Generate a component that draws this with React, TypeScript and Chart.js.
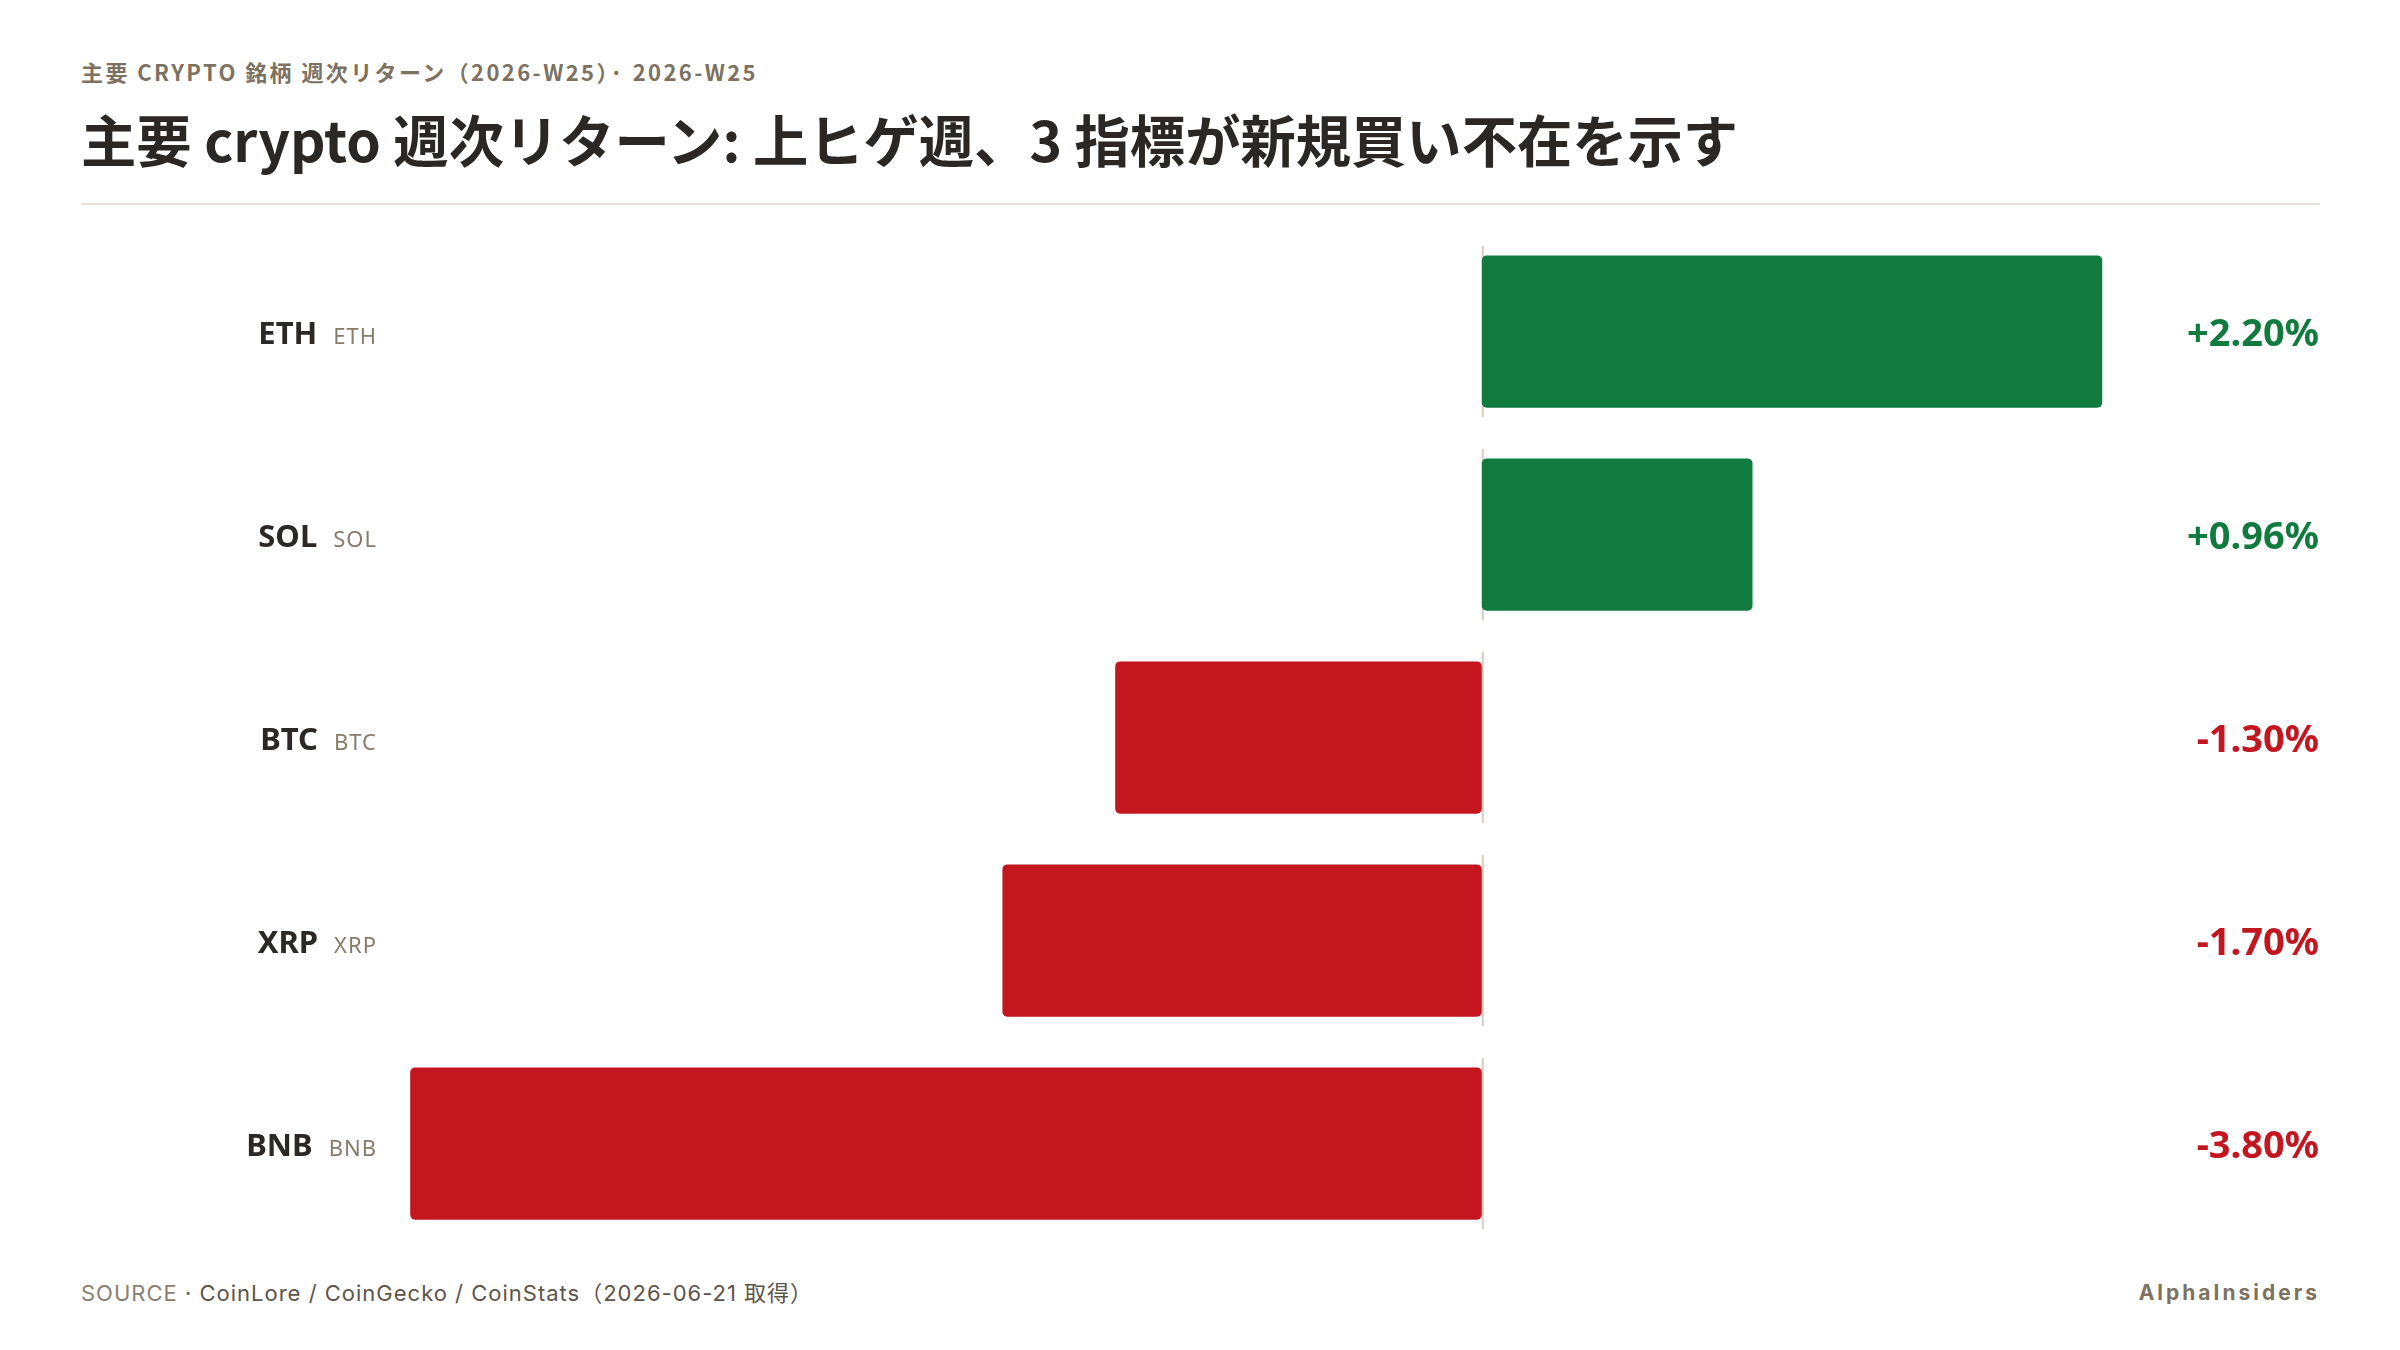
import React, { useEffect, useRef } from "react";
import { Chart, registerables } from "chart.js";

Chart.register(...registerables);

// ---- data ----
const tickers = ["ETH", "SOL", "BTC", "XRP", "BNB"];
const subLabels = ["ETH", "SOL", "BTC", "XRP", "BNB"];
const weeklyReturns = [2.2, 0.96, -1.3, -1.7, -3.8];
const xMin = -3.9;
const xMax = 2.6;

const subtitleText = "主要 CRYPTO 銘柄 週次リターン（2026-W25）· 2026-W25";
const titleText = "主要 crypto 週次リターン: 上ヒゲ週、3 指標が新規買い不在を示す";
const sourceLead = "SOURCE";
const sourceText = " · CoinLore / CoinGecko / CoinStats（2026-06-21 取得）";
const brandText = "AlphaInsiders";

const GREEN = "#117a3e";
const RED = "#c4161f";
const JP = '"Noto Sans CJK JP", "Noto Sans", sans-serif';
const LAT = '"Noto Sans", "Noto Sans CJK JP", sans-serif';

const fmt = (v: number) => (v > 0 ? "+" : v < 0 ? "-" : "") + Math.abs(v).toFixed(2) + "%";

const rowPlugin = {
  id: "rowDecor",
  beforeDatasetsDraw(chart: any) {
    const { ctx, scales } = chart;
    const x = scales.x;
    const y = scales.y;
    const x0 = x.getPixelForValue(0);
    const band = (y.bottom - y.top) / tickers.length;
    ctx.save();
    ctx.fillStyle = "#d5cdc1";
    tickers.forEach((_: string, i: number) => {
      const cy = y.getPixelForValue(i);
      ctx.fillRect(x0, cy - band * 0.422, 2, band * 0.844);
    });
    ctx.restore();
  },
  afterDatasetsDraw(chart: any) {
    const { ctx, scales } = chart;
    const y = scales.y;
    ctx.save();
    ctx.textBaseline = "alphabetic";
    tickers.forEach((t: string, i: number) => {
      const cy = y.getPixelForValue(i);
      // small sub label
      ctx.font = `400 22px ${LAT}`;
      (ctx as any).letterSpacing = "1px";
      ctx.fillStyle = "#877b6a";
      ctx.textAlign = "right";
      const subRight = 377;
      ctx.fillText(subLabels[i], subRight, cy + 12);
      const subW = ctx.measureText(subLabels[i]).width;
      // bold ticker
      (ctx as any).letterSpacing = "0px";
      ctx.font = `700 31px ${LAT}`;
      ctx.fillStyle = "#2b2825";
      ctx.fillText(t, subRight - subW - 16, cy + 12);
      // value label
      const v = weeklyReturns[i];
      ctx.font = `700 38px ${LAT}`;
      ctx.fillStyle = v >= 0 ? GREEN : RED;
      ctx.fillText(fmt(v), 2319, cy + 14);
    });
    ctx.restore();
  },
};

export default function App() {
  const canvasRef = useRef<HTMLCanvasElement | null>(null);

  useEffect(() => {
    if (!canvasRef.current) return;
    const chart = new Chart(canvasRef.current, {
      type: "bar",
      data: {
        labels: tickers,
        datasets: [
          {
            data: weeklyReturns,
            backgroundColor: weeklyReturns.map((v) => (v >= 0 ? GREEN : RED)),
            borderRadius: 5,
            borderSkipped: false,
            barPercentage: 0.75,
            categoryPercentage: 1.0,
          },
        ],
      },
      options: {
        indexAxis: "y",
        animation: false,
        responsive: false,
        maintainAspectRatio: false,
        layout: { padding: { left: 382, right: 185, top: 20, bottom: 25 } },
        plugins: { legend: { display: false }, tooltip: { enabled: false } },
        scales: {
          x: { display: false, min: xMin, max: xMax },
          y: { display: false },
        },
      },
      plugins: [rowPlugin],
    });
    (document as any).fonts?.ready?.then(() => chart.draw());
    return () => chart.destroy();
  }, []);

  return (
    <div
      style={{
        position: "absolute",
        left: 0,
        top: 0,
        width: 2400,
        height: 1350,
        background: "#ffffff",
        overflow: "hidden",
        fontFamily: JP,
      }}
    >
      <div
        style={{
          position: "absolute",
          left: 81,
          top: 55,
          fontSize: 22,
          lineHeight: "32px",
          fontWeight: 700,
          letterSpacing: "2.4px",
          color: "#7d7262",
          whiteSpace: "nowrap",
        }}
      >
        {subtitleText}
      </div>
      <div
        style={{
          position: "absolute",
          left: 81,
          top: 100,
          fontSize: 55.3,
          lineHeight: "76px",
          fontWeight: 700,
          color: "#2a2724",
          whiteSpace: "nowrap",
        }}
      >
        {titleText}
      </div>
      <div
        style={{
          position: "absolute",
          left: 81,
          top: 203,
          width: 2239,
          height: 2,
          background: "#e6e1d8",
        }}
      />
      <canvas
        ref={canvasRef}
        width={2400}
        height={1060}
        style={{ position: "absolute", left: 0, top: 210, width: 2400, height: 1060 }}
      />
      <div
        style={{
          position: "absolute",
          left: 81,
          top: 1278,
          fontSize: 22,
          lineHeight: "30px",
          letterSpacing: "1px",
          whiteSpace: "nowrap",
          fontFamily: '"Inter", "Noto Sans CJK JP", sans-serif',
        }}
      >
        <span style={{ color: "#8a8072" }}>{sourceLead}</span>
        <span style={{ color: "#5d554b" }}>{sourceText}</span>
      </div>
      <div
        style={{
          position: "absolute",
          right: 2400 - 2320,
          top: 1278,
          fontSize: 21,
          lineHeight: "30px",
          fontWeight: 700,
          letterSpacing: "3px",
          color: "#7d7262",
          whiteSpace: "nowrap",
          fontFamily: '"Inter", "Noto Sans CJK JP", sans-serif',
        }}
      >
        {brandText}
      </div>
    </div>
  );
}
